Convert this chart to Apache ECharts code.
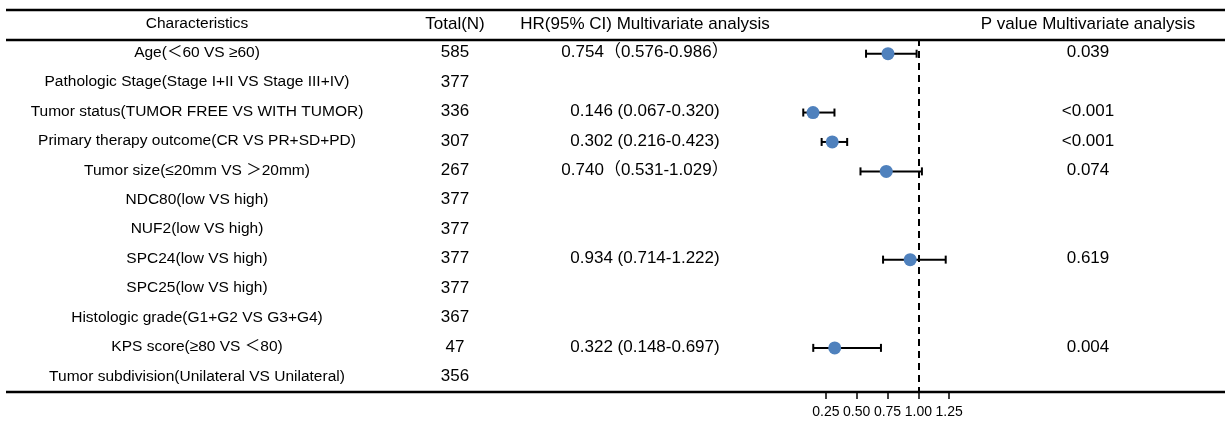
<!DOCTYPE html>
<html>
<head>
<meta charset="utf-8">
<title>Multivariate Cox regression</title>
<script src="https://cdn.jsdelivr.net/npm/echarts@6/dist/echarts.min.js"></script>
<style>
  html, body { margin: 0; padding: 0; background: #fff; }
  #chart { width: 1225px; height: 424px; }
</style>
</head>
<body>
<div id="chart"></div>
<script>
// Table rows
const categories = [
  'Age(＜60 VS ≥60)',
  'Pathologic Stage(Stage I+II VS Stage III+IV)',
  'Tumor status(TUMOR FREE VS WITH TUMOR)',
  'Primary therapy outcome(CR VS PR+SD+PD)',
  'Tumor size(≤20mm VS ＞20mm)',
  'NDC80(low VS high)',
  'NUF2(low VS high)',
  'SPC24(low VS high)',
  'SPC25(low VS high)',
  'Histologic grade(G1+G2 VS G3+G4)',
  'KPS score(≥80 VS ＜80)',
  'Tumor subdivision(Unilateral VS Unilateral)'
];
const totals = [585, 377, 336, 307, 267, 377, 377, 377, 377, 367, 47, 356];
// Hazard ratios with 95% confidence limits (null = not in the multivariate model)
const hr    = [0.754, null, 0.146, 0.302, 0.740, null, null, 0.934, null, null, 0.322, null];
const lower = [0.576, null, 0.067, 0.216, 0.531, null, null, 0.714, null, null, 0.148, null];
const upper = [0.986, null, 0.320, 0.423, 1.029, null, null, 1.222, null, null, 0.697, null];
const pValues = ['0.039', '', '<0.001', '<0.001', '0.074', '', '', '0.619', '', '', '0.004', ''];
// Rows whose CI is written with full-width brackets
const fullWidthBrackets = [true, false, false, false, true, false, false, false, false, false, false, false];
const headers = ['Characteristics', 'Total(N)', 'HR(95% CI) Multivariate analysis', 'P value Multivariate analysis'];
const xTicks = [0.25, 0.50, 0.75, 1.00, 1.25];

const FONT = '"Liberation Sans", Arial, "Noto Sans CJK SC", sans-serif';
const colX = [197, 455, 645, 1088];
const colFontSize = [15.5, 17, 17, 17];

function hrLabel(i) {
  if (hr[i] == null) return '';
  const a = hr[i].toFixed(3), l = lower[i].toFixed(3), u = upper[i].toFixed(3);
  return fullWidthBrackets[i] ? `${a}（${l}-${u}）` : `${a} (${l}-${u})`;
}

const pointData = [];
const barData = [];
hr.forEach((v, i) => {
  if (v != null) {
    pointData.push([v, i]);
    barData.push([lower[i], upper[i], i]);
  }
});

function cellText(t, k, y) {
  return {
    type: 'text', silent: true,
    style: {
      text: t, x: colX[k], y: y, align: 'center', verticalAlign: 'middle',
      fontSize: colFontSize[k], fontFamily: FONT, fill: '#000'
    }
  };
}

const chart = echarts.init(document.getElementById('chart'));

const rule = (y) => ({
  type: 'line', silent: true,
  shape: { x1: 6, y1: y, x2: 1225, y2: y },
  style: { stroke: '#000', lineWidth: 2.5 }
});

chart.setOption({
  animation: false,
  backgroundColor: '#fff',
  grid: { left: 795, width: 185, top: 39, height: 353 },
  xAxis: {
    type: 'value', min: 0, max: 1.5,
    splitLine: { show: false },
    axisLine: { show: false },
    axisTick: { show: true, customValues: xTicks, length: 7, lineStyle: { color: '#000', width: 1.5 } },
    axisLabel: {
      customValues: xTicks,
      formatter: (v) => v.toFixed(2),
      color: '#000', fontSize: 14, fontFamily: FONT, margin: 13
    }
  },
  yAxis: {
    type: 'category', data: categories, inverse: true, show: false
  },
  graphic: [
    rule(10), rule(40), rule(392),
    ...headers.map((h, k) => cellText(h, k, 24))
  ],
  series: [
    {
      // table body: label, N, HR (CI), P value for each row
      type: 'custom',
      silent: true,
      clip: false,
      data: categories.map((c, i) => [0, i]),
      renderItem: (params, api) => {
        const i = api.value(1);
        const y = api.coord([0, i])[1];
        const cells = [categories[i], String(totals[i]), hrLabel(i), pValues[i]];
        return {
          type: 'group',
          children: cells.map((t, k) => cellText(t, k, y - 1))
        };
      },
      z: 1
    },
    {
      // 95% CI whiskers with end caps
      type: 'custom',
      silent: true,
      data: barData,
      renderItem: (params, api) => {
        const p1 = api.coord([api.value(0), api.value(2)]);
        const p2 = api.coord([api.value(1), api.value(2)]);
        const h = 4;
        const st = { stroke: '#000', lineWidth: 2 };
        return {
          type: 'group',
          children: [
            { type: 'line', shape: { x1: p1[0], y1: p1[1], x2: p2[0], y2: p2[1] }, style: st },
            { type: 'line', shape: { x1: p1[0], y1: p1[1] - h, x2: p1[0], y2: p1[1] + h }, style: st },
            { type: 'line', shape: { x1: p2[0], y1: p2[1] - h, x2: p2[0], y2: p2[1] + h }, style: st }
          ]
        };
      },
      z: 3
    },
    {
      type: 'scatter',
      silent: true,
      data: pointData,
      symbol: 'circle',
      symbolSize: 13,
      itemStyle: { color: '#4f81bd', opacity: 1 },
      markLine: {
        silent: true,
        symbol: 'none',
        label: { show: false },
        lineStyle: { color: '#000', type: [7, 5], width: 2 },
        data: [{ xAxis: 1 }]
      },
      z: 4
    }
  ]
});
</script>
</body>
</html>
